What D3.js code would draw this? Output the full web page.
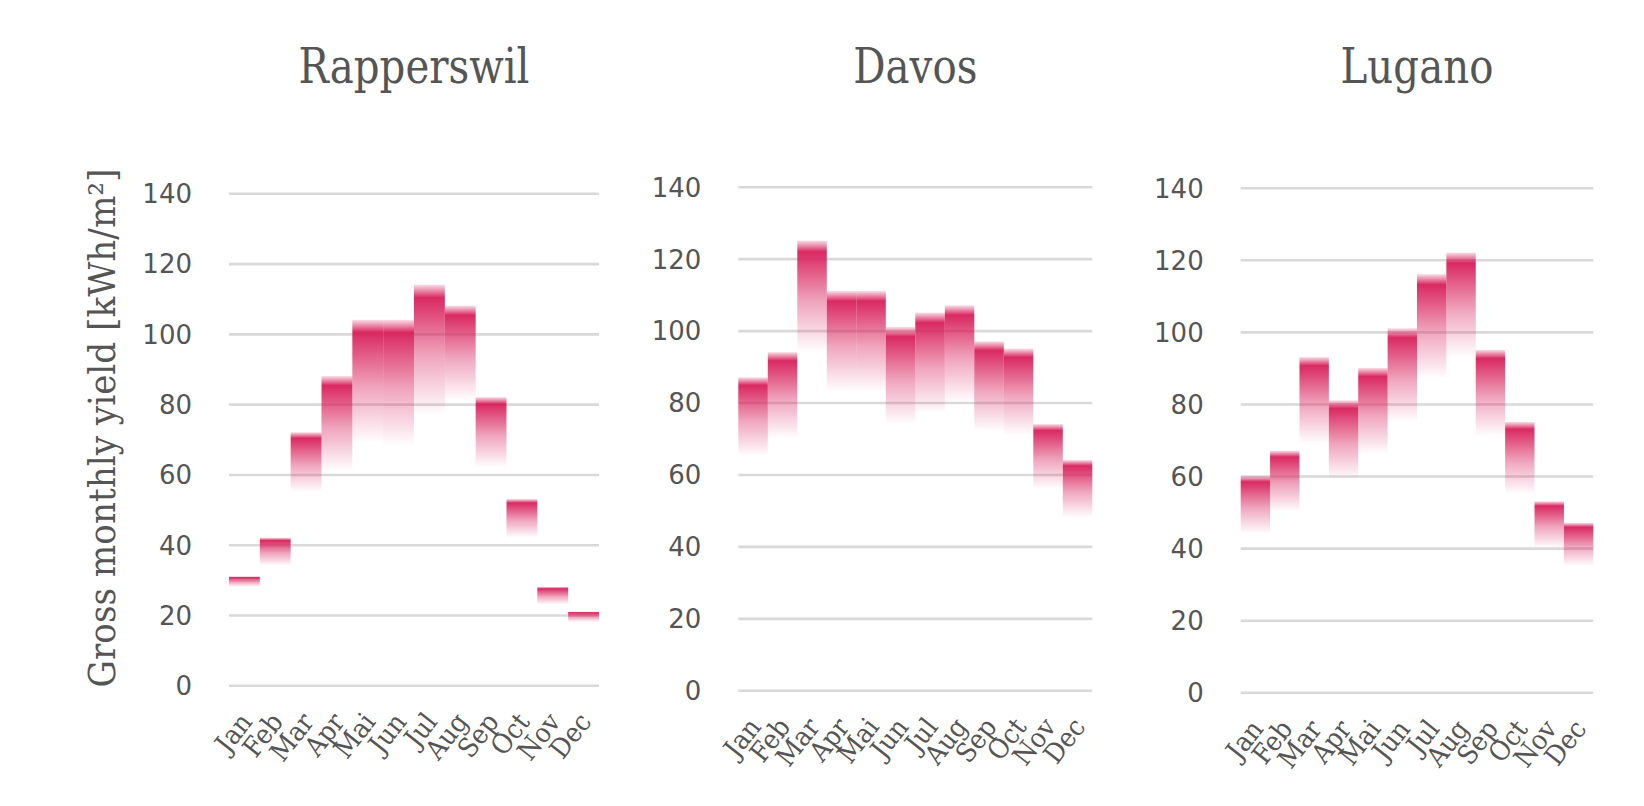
<!DOCTYPE html>
<html>
<head>
<meta charset="utf-8">
<script src="https://cdn.jsdelivr.net/npm/d3@7"></script>
<style>
  html, body { margin: 0; padding: 0; background: #fff; }
  svg { display: block; }
</style>
</head>
<body>
<svg id="chart" width="1644" height="806"></svg>
<script>
// ---------- data ----------
const months = ["Jan","Feb","Mar","Apr","Mai","Jun","Jul","Aug","Sep","Oct","Nov","Dec"];
const cities = ["Rapperswil","Davos","Lugano"];
const yTicks = [0,20,40,60,80,100,120,140];
const yAxisTitle = "Gross monthly yield [kWh/m²]";

const rapperswilHigh = [31, 42, 72, 88, 104, 104, 114, 108, 82, 53, 28, 21];
const rapperswilLow  = [28, 34, 55, 61, 69, 68, 77, 81, 62, 42, 23, 18];
const davosHigh      = [87, 94, 125, 111, 111, 101, 105, 107, 97, 95, 74, 64];
const davosLow       = [65, 70, 94, 83, 83, 74, 77, 80, 72, 71, 56, 48];
const luganoHigh     = [60, 67, 93, 81, 90, 101, 116, 122, 95, 75, 53, 47];
const luganoLow      = [44, 50, 69, 59, 66, 75, 87, 93, 71, 55, 40, 35];

const seriesHigh = [rapperswilHigh, davosHigh, luganoHigh];
const seriesLow  = [rapperswilLow, davosLow, luganoLow];

// ---------- layout ----------
const panels = [
  { x0: 229,   x1: 599,    yb: 685.3, yt: 193.3 },
  { x0: 738.3, x1: 1092.3, yb: 690.3, yt: 186.7 },
  { x0: 1240.7,x1: 1593.3, yb: 692.3, yt: 187.7 }
];
const textColor = "#555555";
const gridColor = "#d9d9d9";
const barColor = "#d81e5b";
const slab = "'DejaVu Serif', serif";
const sans = "'DejaVu Sans', sans-serif";

const svg = d3.select("#chart");
svg.append("rect").attr("width",1644).attr("height",806).attr("fill","#fff");

// gradient
const defs = svg.append("defs");
const grad = defs.append("linearGradient").attr("id","barGrad")
  .attr("x1",0).attr("y1",0).attr("x2",0).attr("y2",1);
[[0,0.15],[0.1,0.95],[0.55,0.4],[1,0]].forEach(([o,a]) => {
  grad.append("stop").attr("offset", o).attr("stop-color", barColor).attr("stop-opacity", a);
});

panels.forEach((p, i) => {
  const x = d3.scaleBand().domain(months).range([p.x0, p.x1]).padding(0);
  const y = d3.scaleLinear().domain([0,140]).range([p.yb, p.yt]);
  const g = svg.append("g");

  // grid + y labels
  const ya = g.append("g").attr("transform", `translate(${p.x0},0)`)
    .call(d3.axisLeft(y).tickValues(yTicks).tickSize(-(p.x1 - p.x0)).tickPadding(37));
  ya.select(".domain").remove();
  ya.selectAll(".tick line").attr("stroke", gridColor).attr("stroke-width", 2.6);
  ya.selectAll(".tick text").attr("fill", textColor).attr("font-family", sans)
    .attr("font-size", 26).attr("dy", "0.36em");

  // bars
  const data = months.map((m, k) => ({ m, hi: seriesHigh[i][k], lo: seriesLow[i][k] }));
  g.append("g").selectAll("rect").data(data).join("rect")
    .attr("x", d => x(d.m))
    .attr("width", x.bandwidth())
    .attr("y", d => y(d.hi))
    .attr("height", d => y(d.lo) - y(d.hi))
    .attr("fill", "url(#barGrad)");

  // month labels
  const xa = g.append("g").attr("transform", `translate(0,${p.yb})`)
    .call(d3.axisBottom(x).tickSize(0));
  xa.select(".domain").remove();
  xa.selectAll(".tick text")
    .attr("x", 0).attr("y", 0).attr("dy", 0)
    .attr("text-anchor", "end")
    .attr("fill", textColor).attr("font-family", slab).attr("font-size", 27)
    .attr("transform", "translate(9,37) rotate(-52) scale(0.92,1)");

  // title
  g.append("text")
    .attr("transform", `translate(${(p.x0 + p.x1) / 2},83) scale(0.84,1)`)
    .attr("text-anchor", "middle")
    .attr("fill", textColor).attr("font-family", slab).attr("font-size", 48)
    .text(cities[i]);
});

// y axis title
svg.append("text")
  .attr("transform", "translate(115,428) rotate(-90) scale(0.925,1)")
  .attr("text-anchor", "middle")
  .attr("fill", textColor).attr("font-family", slab).attr("font-size", 37)
  .text(yAxisTitle);
</script>
</body>
</html>
